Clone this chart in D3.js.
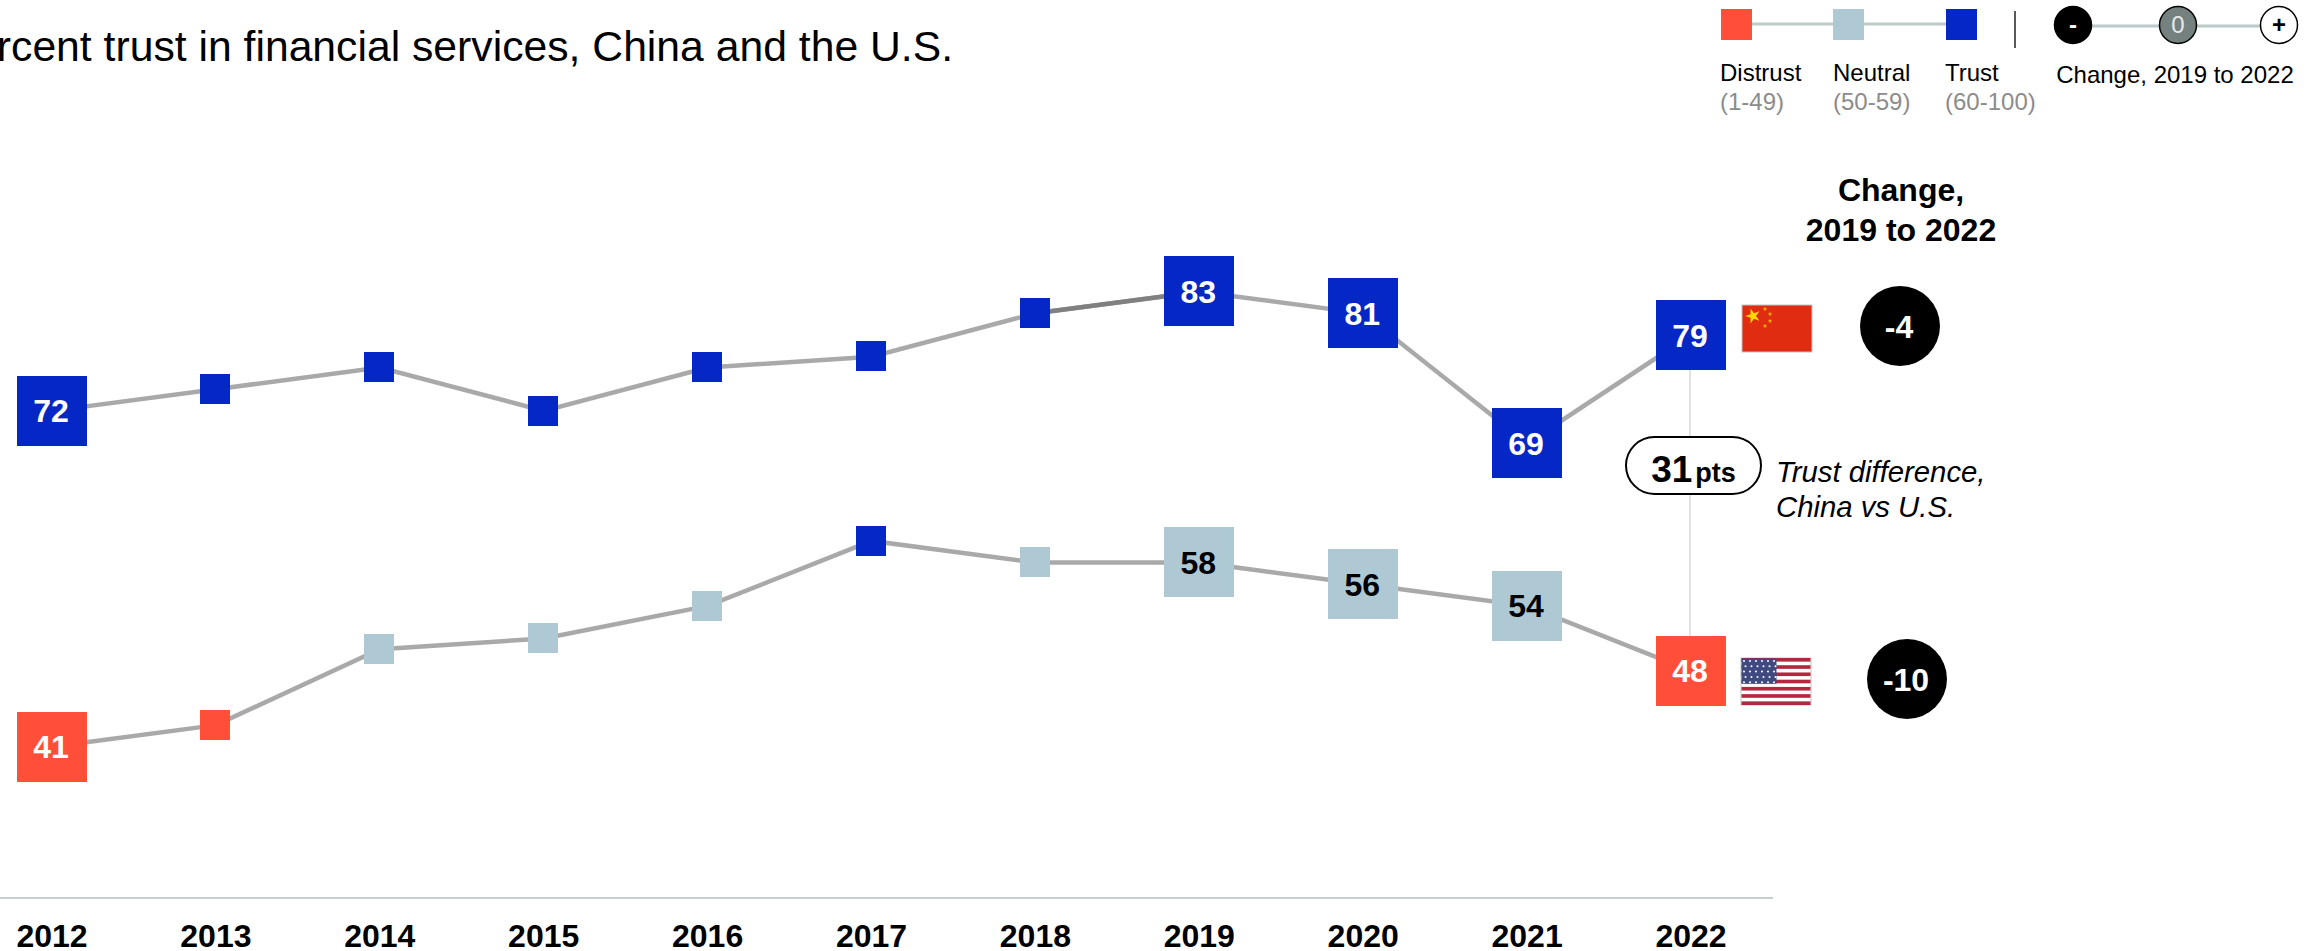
<!DOCTYPE html>
<html><head><meta charset="utf-8">
<script src="https://cdn.jsdelivr.net/npm/d3@7"></script>
<style>
html,body{margin:0;padding:0;background:#fff;overflow:hidden}
svg{display:block}
text{font-family:"Liberation Sans",Arial,sans-serif}
</style></head><body>
<svg id="chart" width="2318" height="951"></svg>
<script>
const years = [2012,2013,2014,2015,2016,2017,2018,2019,2020,2021,2022];
const china = [72,74,76,72,76,77,81,83,81,69,79];
const usa   = [41,43,50,51,54,60,58,58,56,54,48];
const labelledYears = [2012,2019,2020,2021,2022];
const titleText = "Percent trust in financial services, China and the U.S.";
const bandBreaks = [50,60];
const bandColors = ["#ff4f38","#aec9d3","#0527c6"];
const legendBands = [["Distrust","(1-49)"],["Neutral","(50-59)"],["Trust","(60-100)"]];
const changes = [-4,-10];
const trustGap = 31;

const svg = d3.select("#chart");
const LINE = "#a9a9a9";
const x = d3.scaleLinear().domain([2012,2022]).range([52,1691]);
const y = d3.scaleLinear().domain([41,79]).range([746.8,335]);
const color = d3.scaleThreshold().domain(bandBreaks).range(bandColors);
const lineGen = d3.line().x(d=>x(d.year)).y(d=>y(d.value));

// title
svg.append("text").attr("x",953).attr("y",61).attr("text-anchor","end")
  .attr("font-size",42.7).attr("fill","#000").text(titleText);

// axis
const axisG = svg.append("g").attr("transform","translate(0,898)");
axisG.append("line").attr("x1",0).attr("x2",1773).attr("stroke","#b3bfbd").attr("stroke-width",1.5);
axisG.selectAll("text.yr").data(years).join("text").attr("class","yr")
  .attr("x",d=>x(d)).attr("y",49).attr("text-anchor","middle")
  .attr("font-size",32).attr("font-weight","bold").text(d=>d);

// connector between end points
svg.append("line").attr("x1",x(2022)-1).attr("x2",x(2022)-1)
  .attr("y1",y(79)).attr("y2",y(48)).attr("stroke","#d9d9d9").attr("stroke-width",1.5);

// series
[china,usa].forEach(vals=>{
  const pts = years.map((year,i)=>({year,value:vals[i]}));
  const g = svg.append("g");
  g.append("path").datum(pts).attr("d",lineGen).attr("fill","none")
    .attr("stroke",LINE).attr("stroke-width",4.5);
  if(vals===china){
    g.append("path").datum(pts.slice(6,8)).attr("d",lineGen).attr("fill","none")
      .attr("stroke","#808080").attr("stroke-width",4.5);
  }
  const size = d=>labelledYears.includes(d.year)?70:30;
  g.selectAll("rect").data(pts).join("rect")
    .attr("x",d=>Math.floor(x(d.year)-size(d)/2)).attr("y",d=>Math.round(y(d.value)-size(d)/2-0.2))
    .attr("width",size).attr("height",size).attr("fill",d=>color(d.value));
  g.selectAll("text").data(pts.filter(d=>labelledYears.includes(d.year))).join("text")
    .attr("x",d=>x(d.year)-1).attr("y",d=>y(d.value)+11.5).attr("text-anchor","middle")
    .attr("font-size",32).attr("font-weight","bold")
    .attr("fill",d=>color(d.value)===bandColors[1]?"#000":"#fff").text(d=>d.value);
});

// pill
svg.append("rect").attr("x",1626).attr("y",437).attr("width",135).attr("height",57)
  .attr("rx",28.5).attr("fill","#fff").attr("stroke","#000").attr("stroke-width",2);
const pill = svg.append("text").attr("x",1693.5).attr("y",482).attr("text-anchor","middle").attr("font-weight","bold");
pill.append("tspan").attr("font-size",37).text(trustGap);
pill.append("tspan").attr("font-size",27).attr("dx",3).text("pts");
svg.append("text").attr("x",1776).attr("y",482).attr("font-size",29.3).attr("font-style","italic").text("Trust difference,");
svg.append("text").attr("x",1776).attr("y",517).attr("font-size",29.3).attr("font-style","italic").text("China vs U.S.");

// change heading & bubbles
svg.append("text").attr("x",1901).attr("y",201).attr("text-anchor","middle").attr("font-size",32).attr("font-weight","bold").text("Change,");
svg.append("text").attr("x",1901).attr("y",241).attr("text-anchor","middle").attr("font-size",32).attr("font-weight","bold").text("2019 to 2022");
const bubbleX=[1900,1907], bubbleY=[326,679];
changes.forEach((c,i)=>{
  svg.append("circle").attr("cx",bubbleX[i]).attr("cy",bubbleY[i]).attr("r",40).attr("fill","#000");
  svg.append("text").attr("x",bubbleX[i]-1).attr("y",bubbleY[i]+12).attr("text-anchor","middle")
    .attr("font-size",32).attr("font-weight","bold").attr("fill","#fff").text(c);
});

// China flag
const cn = svg.append("g").attr("transform","translate(1742,305)");
cn.append("rect").attr("width",70).attr("height",47).attr("fill","#e02c10").attr("stroke","#c4c4c4").attr("stroke-width",1);
const starPath = d3.symbol().type(d3.symbolStar);
[[11,11,70,-18],[23,4,7,0],[28,9,7,0],[28,16,7,0],[23,21,7,0]].forEach(([sx,sy,s,r])=>{
  cn.append("path").attr("d",starPath.size(s)()).attr("transform",`translate(${sx},${sy}) rotate(${r})`).attr("fill",s>20?"#ffd800":"#f7b500");
});

// US flag
const us = svg.append("g").attr("transform","translate(1741,658)");
us.append("rect").attr("width",70).attr("height",47).attr("fill","#fff").attr("stroke","#c4c4c4").attr("stroke-width",1);
const stripeH=47/13;
d3.range(0,13,2).forEach(k=>us.append("rect").attr("x",.5).attr("y",k*stripeH).attr("width",69).attr("height",stripeH).attr("fill","#b5263f"));
us.append("rect").attr("x",.5).attr("y",0.5).attr("width",35).attr("height",stripeH*7).attr("fill","#414a80");
d3.range(5).forEach(r=>d3.range(6).forEach(c=>{
  us.append("circle").attr("cx",3+c*6+(r%2?1.5:0)).attr("cy",3+r*5.3).attr("r",1).attr("fill","#fff");
}));

// legend
const legX=[1721,1833,1946];
const leg=svg.append("g");
leg.append("line").attr("x1",legX[0]).attr("x2",legX[2]).attr("y1",24).attr("y2",24).attr("stroke","#bccac9").attr("stroke-width",3);
legendBands.forEach((b,i)=>{
  leg.append("rect").attr("x",legX[i]).attr("y",9).attr("width",31).attr("height",31).attr("fill",bandColors[i]);
  leg.append("text").attr("x",legX[i]-1+(i===1?1:0)).attr("y",81).attr("font-size",24).attr("fill","#000").text(b[0]);
  leg.append("text").attr("x",legX[i]-1+(i===1?1:0)).attr("y",110).attr("font-size",24).attr("fill","#8c8c8c").text(b[1]);
});
leg.append("line").attr("x1",2015).attr("x2",2015).attr("y1",11).attr("y2",48).attr("stroke","#222").attr("stroke-width",1.5);
leg.append("line").attr("x1",2073).attr("x2",2279).attr("y1",26).attr("y2",26).attr("stroke","#bccac9").attr("stroke-width",3);
const legC=[[2073,"#000","#000","-","#fff","bold"],[2178,"#74817e","#000","0","#e8e8e8","normal"],[2279,"#fff","#000","+","#000","bold"]];
legC.forEach(([cx,f,s,t,tf,w])=>{
  leg.append("circle").attr("cx",cx).attr("cy",25).attr("r",18.5).attr("fill",f).attr("stroke",s).attr("stroke-width",1.5);
  leg.append("text").attr("x",cx).attr("y",33).attr("text-anchor","middle").attr("font-size",24).attr("font-weight",w).attr("fill",tf).text(t);
});
leg.append("text").attr("x",2175).attr("y",83).attr("text-anchor","middle").attr("font-size",24).text("Change, 2019 to 2022");
</script>
</body></html>
